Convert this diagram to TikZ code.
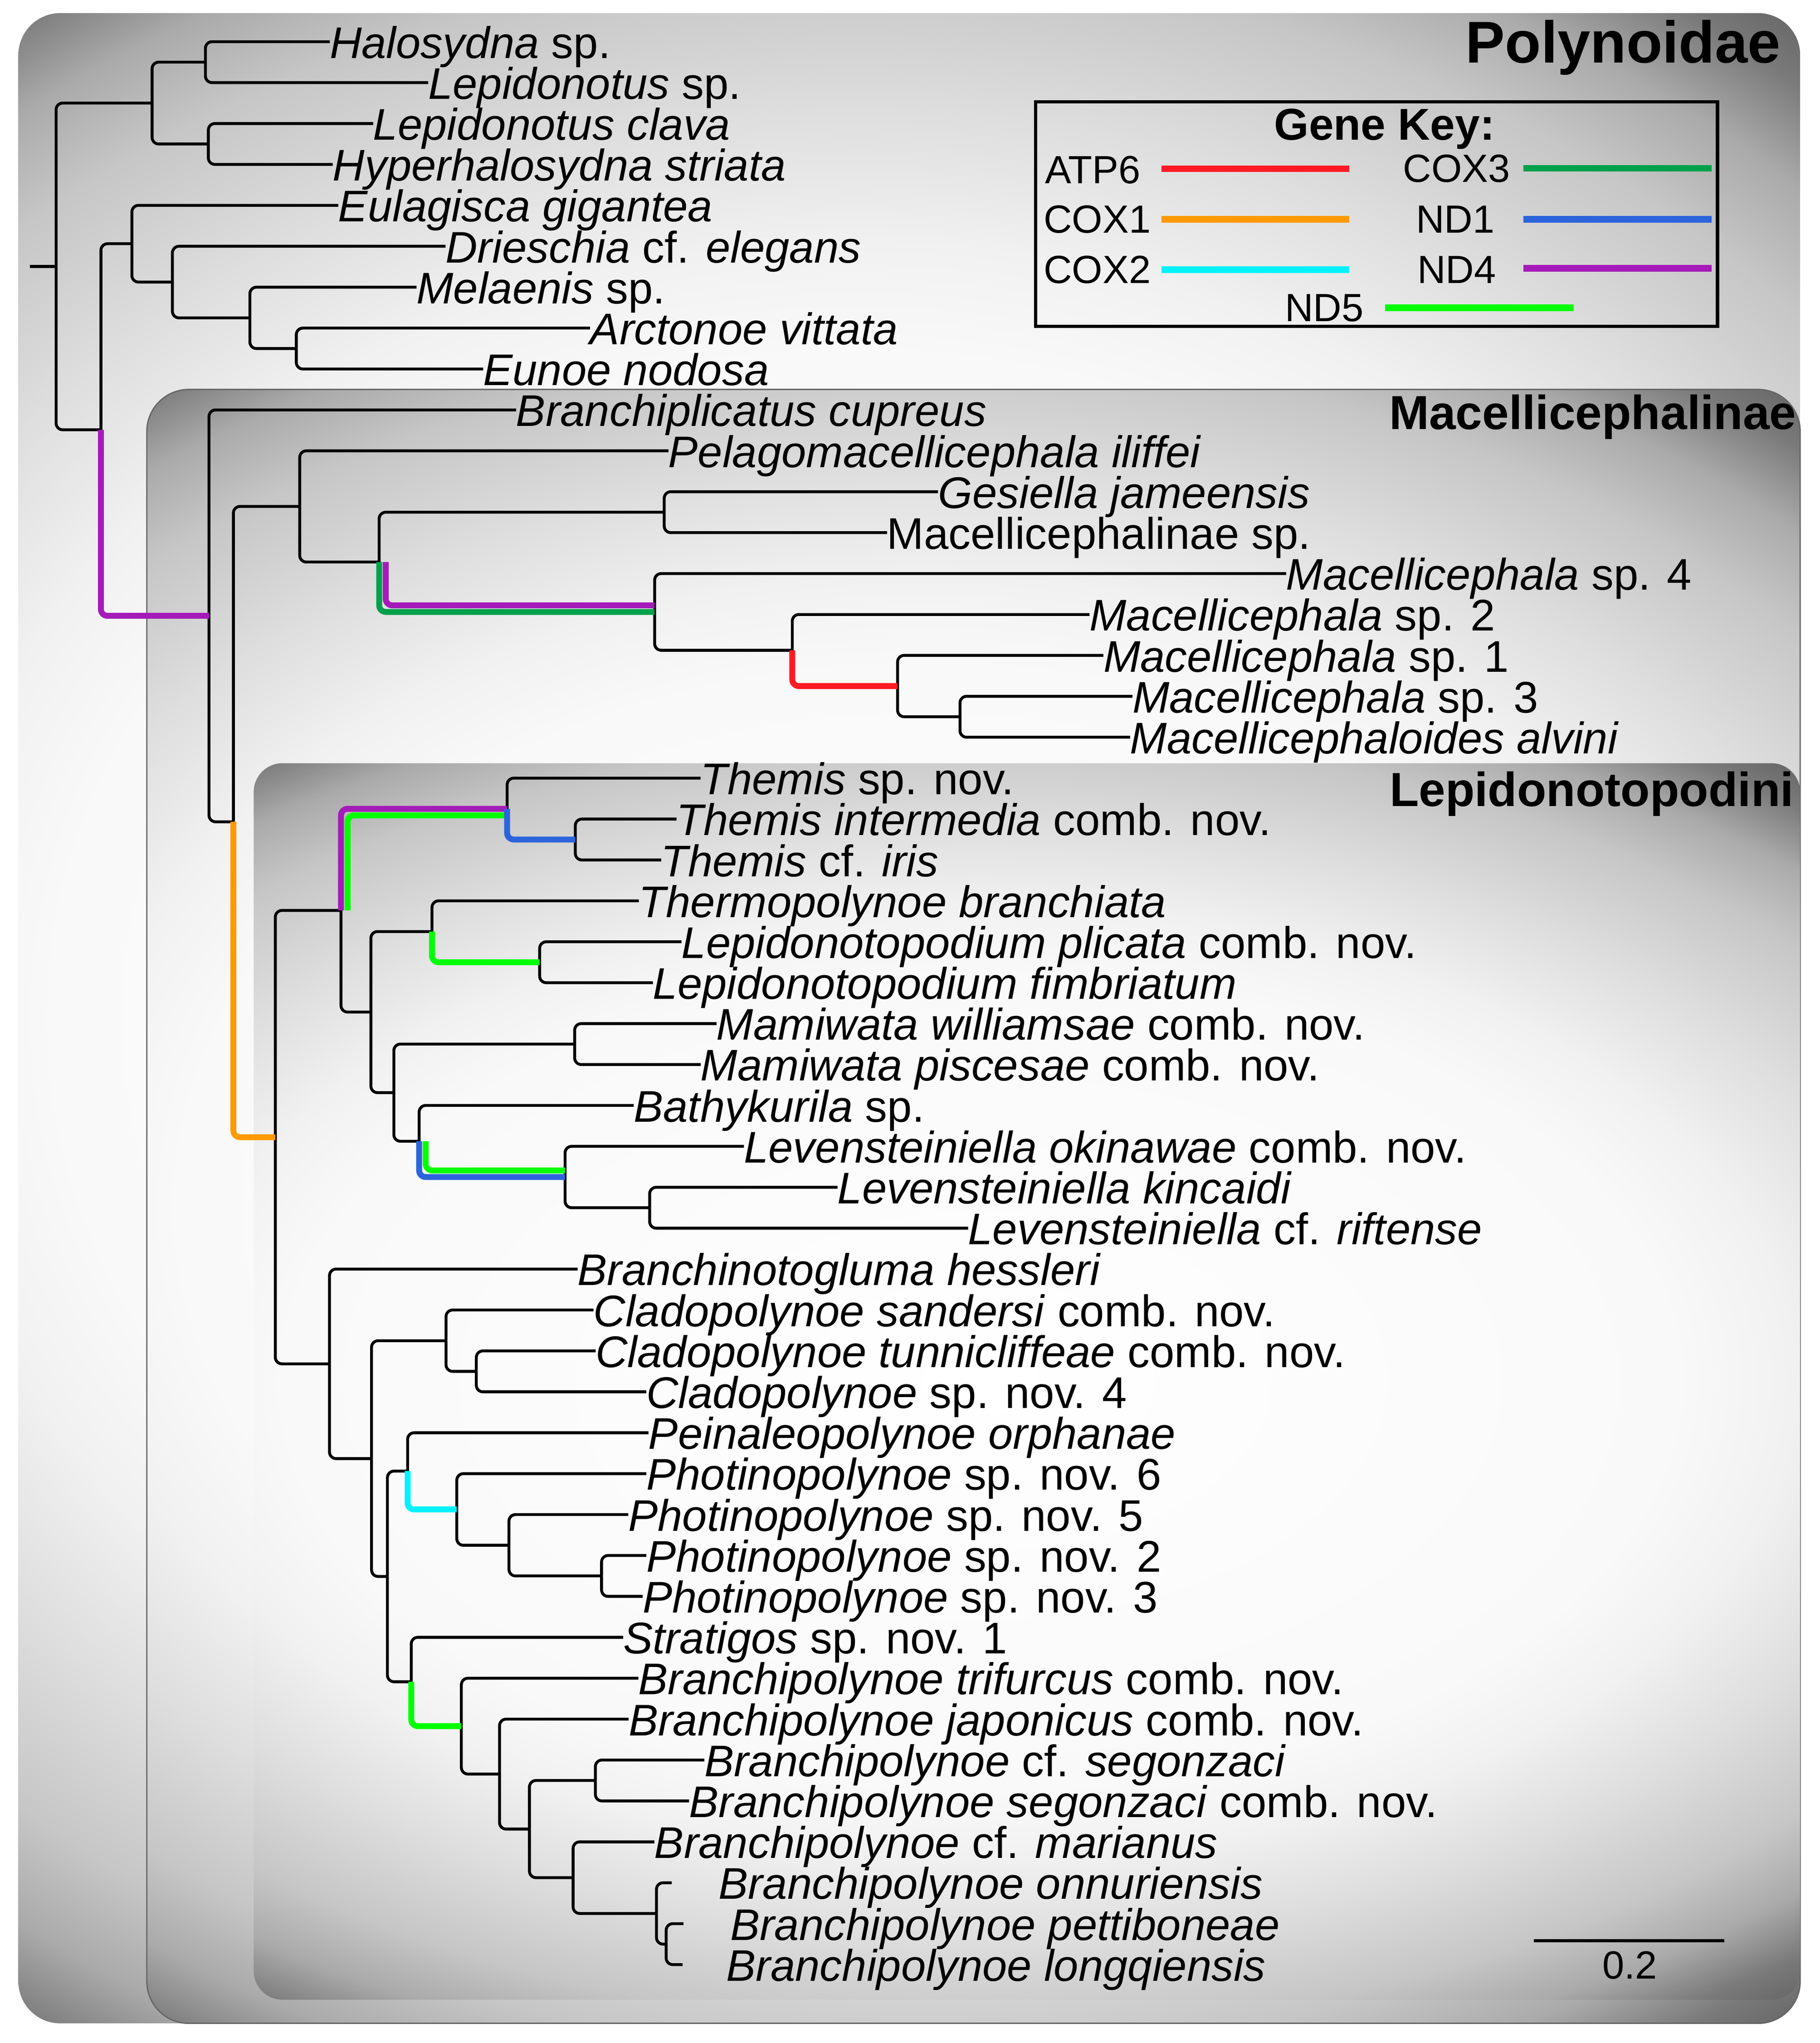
\documentclass[tikz,border=0pt]{standalone}
\usepackage{fontspec}
\setmainfont{Liberation Sans}
\usetikzlibrary{calc}
\definecolor{gA}{HTML}{F9F9F9}
\definecolor{gB}{HTML}{F1F1F1}
\definecolor{gC}{HTML}{DEDEDE}
\definecolor{gD}{HTML}{C6C6C6}
\definecolor{gE}{HTML}{AAAAAA}
\definecolor{gF}{HTML}{7A7A7A}
\definecolor{gG}{HTML}{5A5A5A}
\pgfdeclareradialshading{boxshade}{\pgfpoint{0bp}{0bp}}{color(0bp)=(white); color(15bp)=(gA); color(17.5bp)=(gB); color(20.5bp)=(gC); color(23.75bp)=(gD); color(25.75bp)=(gE); color(27.5bp)=(gF); color(29.5bp)=(gG); color(50bp)=(gG)}
\definecolor{cATP}{HTML}{FF1A24}
\definecolor{cCOXa}{HTML}{FF9900}
\definecolor{cCOXb}{HTML}{00F2FF}
\definecolor{cCOXc}{HTML}{00A14B}
\definecolor{cNDa}{HTML}{2C64DC}
\definecolor{cNDd}{HTML}{A51BB9}
\definecolor{cNDe}{HTML}{00FF00}
\begin{document}
\begin{tikzpicture}[x=1pt,y=-1pt,
  br/.style={line width=2.2pt, rounded corners=5pt},
  gene/.style={line width=4.5pt, rounded corners=5pt},
  tip/.style={anchor=west, inner sep=0pt, outer sep=0pt, text height=27pt, text depth=2pt, font=\fontsize{33.8}{40}\selectfont},
  keyt/.style={inner sep=0pt, outer sep=0pt, font=\fontsize{30}{36}\selectfont},
  keyln/.style={line width=5pt},
  clade/.style={anchor=base east, inner sep=0pt, outer sep=0pt},
  boxbg/.style={shade, shading=boxshade}]
\useasboundingbox (0,0) rectangle (1388,1558);
\fill[white] (0,0) rectangle (1388,1558);
% clade boxes (off-centre elliptical gradient, clipped to each rounded box)
\begin{scope}
  \clip[rounded corners=32pt] (14,10) rectangle (1373,1543);
  \path[boxbg] (-366,-66.5) rectangle (1672,1619.5);
\end{scope}
\begin{scope}
  \clip[rounded corners=32pt] (112,297) rectangle (1373,1543);
  \path[boxbg] (-240.9,234.7) rectangle (1650.6,1605.3);
\end{scope}
\draw[black!60, line width=1pt, rounded corners=32pt] (112,297) rectangle (1373,1543);
\begin{scope}
  \clip[rounded corners=22pt] (193.5,582) rectangle (1373,1525);
  \path[boxbg] (-136.7,534.85) rectangle (1632.5,1572.15);
\end{scope}
% clade labels
\node[clade, font=\fontsize{45}{52}\selectfont\bfseries] (lPoly) at (1358,48) {Polynoidae};
\node[clade, font=\fontsize{36.5}{43}\selectfont\bfseries] (lMac) at (1370,327.5) {Macellicephalinae};
\node[clade, font=\fontsize{36.5}{43}\selectfont\bfseries] (lLep) at (1368,615) {Lepidonotopodini};
% tips
\node[tip] (t0) at (251.5,31.8) {\textit{Halosydna} sp.};
\node[tip] (t1) at (326.6,63.0) {\textit{Lepidonotus} sp.};
\node[tip] (t2) at (284.6,94.2) {\textit{Lepidonotus clava}};
\node[tip] (t3) at (253.8,125.4) {\textit{Hyperhalosydna striata}};
\node[tip] (t4) at (258,156.6) {\textit{Eulagisca gigantea}};
\node[tip] (t5) at (339.8,187.8) {\textit{Drieschia} cf. \textit{elegans}};
\node[tip] (t6) at (317.7,219.0) {\textit{Melaenis} sp.};
\node[tip] (t7) at (450,250.2) {\textit{Arctonoe vittata}};
\node[tip] (t8) at (368.5,281.4) {\textit{Eunoe nodosa}};
\node[tip] (t9) at (393.6,312.6) {\textit{Branchiplicatus cupreus}};
\node[tip] (t10) at (509.8,343.8) {\textit{Pelagomacellicephala iliffei}};
\node[tip] (t11) at (715.5,375.0) {\textit{Gesiella jameensis}};
\node[tip] (t12) at (676.6,406.2) {Macellicephalinae sp.};
\node[tip] (t13) at (981,437.4) {\textit{Macellicephala} sp. 4};
\node[tip] (t14) at (831,468.6) {\textit{Macellicephala} sp. 2};
\node[tip] (t15) at (841.6,499.8) {\textit{Macellicephala} sp. 1};
\node[tip] (t16) at (863.8,531.0) {\textit{Macellicephala} sp. 3};
\node[tip] (t17) at (862,562.2) {\textit{Macellicephaloides alvini}};
\node[tip] (t18) at (534.3,593.4) {\textit{Themis} sp. nov.};
\node[tip] (t19) at (516,624.6) {\textit{Themis intermedia} comb. nov.};
\node[tip] (t20) at (504.3,655.8) {\textit{Themis} cf. \textit{iris}};
\node[tip] (t21) at (487.3,687.0) {\textit{Thermopolynoe branchiata}};
\node[tip] (t22) at (519.8,718.2) {\textit{Lepidonotopodium plicata} comb. nov.};
\node[tip] (t23) at (498,749.4) {\textit{Lepidonotopodium fimbriatum}};
\node[tip] (t24) at (546.5,780.6) {\textit{Mamiwata williamsae} comb. nov.};
\node[tip] (t25) at (534.4,811.8) {\textit{Mamiwata piscesae} comb. nov.};
\node[tip] (t26) at (483.4,843.0) {\textit{Bathykurila} sp.};
\node[tip] (t27) at (567.4,874.2) {\textit{Levensteiniella okinawae} comb. nov.};
\node[tip] (t28) at (638.8,905.4) {\textit{Levensteiniella kincaidi}};
\node[tip] (t29) at (738.4,936.6) {\textit{Levensteiniella} cf. \textit{riftense}};
\node[tip] (t30) at (440.6,967.8) {\textit{Branchinotogluma hessleri}};
\node[tip] (t31) at (452.7,999.0) {\textit{Cladopolynoe sandersi} comb. nov.};
\node[tip] (t32) at (454.3,1030.2) {\textit{Cladopolynoe tunnicliffeae} comb. nov.};
\node[tip] (t33) at (493,1061.4) {\textit{Cladopolynoe} sp. nov. 4};
\node[tip] (t34) at (494.6,1092.6) {\textit{Peinaleopolynoe orphanae}};
\node[tip] (t35) at (493,1123.8) {\textit{Photinopolynoe} sp. nov. 6};
\node[tip] (t36) at (479.2,1155.0) {\textit{Photinopolynoe} sp. nov. 5};
\node[tip] (t37) at (493,1186.2) {\textit{Photinopolynoe} sp. nov. 2};
\node[tip] (t38) at (490.2,1217.4) {\textit{Photinopolynoe} sp. nov. 3};
\node[tip] (t39) at (475.3,1248.6) {\textit{Stratigos} sp. nov. 1};
\node[tip] (t40) at (486.9,1279.8) {\textit{Branchipolynoe trifurcus} comb. nov.};
\node[tip] (t41) at (479.5,1311.0) {\textit{Branchipolynoe japonicus} comb. nov.};
\node[tip] (t42) at (537.2,1342.2) {\textit{Branchipolynoe} cf. \textit{segonzaci}};
\node[tip] (t43) at (525.6,1373.4) {\textit{Branchipolynoe segonzaci} comb. nov.};
\node[tip] (t44) at (499.1,1404.6) {\textit{Branchipolynoe} cf. \textit{marianus}};
\node[tip] (t45) at (548,1435.8) {\textit{Branchipolynoe onnuriensis}};
\node[tip] (t46) at (557,1467.0) {\textit{Branchipolynoe pettiboneae}};
\node[tip] (t47) at (554,1498.2) {\textit{Branchipolynoe longqiensis}};
% internal nodes
\coordinate (r0s) at (23,203.2);
\coordinate (r0) at (42.8,203.2);
\coordinate (p1) at (116,78.6);
\coordinate (p2) at (156.7,47.4);
\coordinate (p3) at (158.9,109.8);
\coordinate (p4) at (77,327.75);
\coordinate (p5) at (100.6,185.85);
\coordinate (p6) at (131.5,215.1);
\coordinate (p7) at (190.6,242.4);
\coordinate (p8) at (226,265.8);
\coordinate (nA) at (159.4,469.65);
\coordinate (nB) at (178,626.7);
\coordinate (nC) at (228.6,386.2);
\coordinate (nD) at (289.2,428.6);
\coordinate (nE) at (506.6,390.6);
\coordinate (nF) at (499.3,466.65);
\coordinate (nG) at (604.3,495.9);
\coordinate (nH) at (684.6,523.2);
\coordinate (nI) at (732.2,546.6);
\coordinate (nJ) at (210,867.2);
\coordinate (nK) at (260.1,694.3);
\coordinate (nL) at (386.8,616.8);
\coordinate (nM) at (438.8,640.2);
\coordinate (nN) at (282.9,771.8);
\coordinate (nO) at (329.5,710.4);
\coordinate (nP) at (411.6,733.8);
\coordinate (nQ) at (300.4,833.25);
\coordinate (nR) at (438.3,796.2);
\coordinate (nS) at (319.7,870.3);
\coordinate (nT) at (431,897.6);
\coordinate (nU) at (495.5,921);
\coordinate (nV) at (251.3,1040.05);
\coordinate (nW) at (283.4,1112.3);
\coordinate (nX) at (340.2,1022.4);
\coordinate (nXb) at (363.3,1045.8);
\coordinate (nY) at (295.5,1202.2);
\coordinate (nZ) at (310.9,1121.85);
\coordinate (nAA) at (348.4,1151.1);
\coordinate (nAB) at (388.2,1178.4);
\coordinate (nAC) at (458.8,1201.8);
\coordinate (nAD) at (313.7,1282.5);
\coordinate (nAE) at (351.9,1316.35);
\coordinate (nAF) at (381,1352.9);
\coordinate (nAG) at (403.8,1394.85);
\coordinate (nAH) at (454.1,1357.8);
\coordinate (nAI) at (437.1,1431.9);
\coordinate (nAJ) at (500.7,1459.2);
\coordinate (nAK) at (508.1,1482.6);
\coordinate (e45) at (512.3,1435.8);
\coordinate (e46) at (521.3,1467.0);
\coordinate (e47) at (520.6,1498.2);
% black branches
\draw[br] (r0s) -- (r0);
\draw[br] (r0) |- (p1); \draw[br] (r0) |- (p4);
\draw[br] (p1) |- (p2); \draw[br] (p1) |- (p3);
\draw[br] (p2) |- (t0.west); \draw[br] (p2) |- (t1.west);
\draw[br] (p3) |- (t2.west); \draw[br] (p3) |- (t3.west);
\draw[br] (p4) |- (p5);
\draw[br] (p5) |- (t4.west); \draw[br] (p5) |- (p6);
\draw[br] (p6) |- (t5.west); \draw[br] (p6) |- (p7);
\draw[br] (p7) |- (t6.west); \draw[br] (p7) |- (p8);
\draw[br] (p8) |- (t7.west); \draw[br] (p8) |- (t8.west);
\draw[br] (nA) |- (t9.west); \draw[br] (nA) |- (nB);
\draw[br] (nB) |- (nC);
\draw[br] (nC) |- (t10.west); \draw[br] (nC) |- (nD);
\draw[br] (nD) |- (nE);
\draw[br] (nE) |- (t11.west); \draw[br] (nE) |- (t12.west);
\draw[br] (nF) |- (t13.west); \draw[br] (nF) |- (nG);
\draw[br] (nG) |- (t14.west);
\draw[br] (nH) |- (t15.west); \draw[br] (nH) |- (nI);
\draw[br] (nI) |- (t16.west); \draw[br] (nI) |- (t17.west);
\draw[br] (nJ) |- (nK); \draw[br] (nJ) |- (nV);
\draw[br] (nK) |- (nN);
\draw[br] (nL) |- (t18.west);
\draw[br] (nM) |- (t19.west); \draw[br] (nM) |- (t20.west);
\draw[br] (nN) |- (nO); \draw[br] (nN) |- (nQ);
\draw[br] (nO) |- (t21.west);
\draw[br] (nP) |- (t22.west); \draw[br] (nP) |- (t23.west);
\draw[br] (nQ) |- (nR); \draw[br] (nQ) |- (nS);
\draw[br] (nR) |- (t24.west); \draw[br] (nR) |- (t25.west);
\draw[br] (nS) |- (t26.west);
\draw[br] (nT) |- (t27.west); \draw[br] (nT) |- (nU);
\draw[br] (nU) |- (t28.west); \draw[br] (nU) |- (t29.west);
\draw[br] (nV) |- (t30.west); \draw[br] (nV) |- (nW);
\draw[br] (nW) |- (nX); \draw[br] (nW) |- (nY);
\draw[br] (nX) |- (t31.west); \draw[br] (nX) |- (nXb);
\draw[br] (nXb) |- (t32.west); \draw[br] (nXb) |- (t33.west);
\draw[br] (nY) |- (nZ); \draw[br] (nY) |- (nAD);
\draw[br] (nZ) |- (t34.west);
\draw[br] (nAA) |- (t35.west); \draw[br] (nAA) |- (nAB);
\draw[br] (nAB) |- (t36.west); \draw[br] (nAB) |- (nAC);
\draw[br] (nAC) |- (t37.west); \draw[br] (nAC) |- (t38.west);
\draw[br] (nAD) |- (t39.west);
\draw[br] (nAE) |- (t40.west); \draw[br] (nAE) |- (nAF);
\draw[br] (nAF) |- (t41.west); \draw[br] (nAF) |- (nAG);
\draw[br] (nAG) |- (nAH); \draw[br] (nAG) |- (nAI);
\draw[br] (nAH) |- (t42.west); \draw[br] (nAH) |- (t43.west);
\draw[br] (nAI) |- (t44.west); \draw[br] (nAI) |- (nAJ);
\draw[br] (nAJ) |- (e45); \draw[br] (nAJ) |- (nAK);
\draw[br] (nAK) |- (e46); \draw[br] (nAK) |- (e47);
% gene-coloured branches
\draw[gene, cNDd] (p4) |- (nA);
\draw[gene, cCOXa] (nB) |- (nJ);
\draw[gene, cCOXc] (nD) |- (nF);
\draw[gene, cNDd] ($(nD)+(5,0)$) |- ($(nF)+(0,-5)$);
\draw[gene, cATP] (nG) |- (nH);
\draw[gene, cNDd] (nK) |- (nL);
\draw[gene, cNDe] ($(nK)+(5,0)$) |- ($(nL)+(0,5)$);
\draw[gene, cNDa] (nL) |- (nM);
\draw[gene, cNDe] (nO) |- (nP);
\draw[gene, cNDa] (nS) |- (nT);
\draw[gene, cNDe] ($(nS)+(5,0)$) |- ($(nT)+(0,-5)$);
\draw[gene, cCOXb] (nZ) |- (nAA);
\draw[gene, cNDe] (nAD) |- (nAE);
% gene key
\node[draw, line width=2.5pt, minimum width=520pt, minimum height=171pt, inner sep=0pt] (key) at (1050,163.25) {};
\node[inner sep=0pt, anchor=base, font=\fontsize{34}{40}\selectfont\bfseries] (keyttl) at (1056,106.6) {Gene Key:};
\node[keyt, anchor=base west] (kATP) at (797,139.8) {ATP6};
\draw[keyln, cATP] (886,128.6) -- (1029,128.6);
\node[keyt, anchor=base] (kCOXc) at (1111,138.8) {COX3};
\draw[keyln, cCOXc] (1162,128.4) -- (1305.5,128.4);
\node[keyt, anchor=base west] (kCOXa) at (796,177.7) {COX1};
\draw[keyln, cCOXa] (886,167.3) -- (1029,167.3);
\node[keyt, anchor=base] (kNDa) at (1110,177.7) {ND1};
\draw[keyln, cNDa] (1162,167.3) -- (1305.5,167.3);
\node[keyt, anchor=base west] (kCOXb) at (796,215.9) {COX2};
\draw[keyln, cCOXb] (886,205.7) -- (1029,205.7);
\node[keyt, anchor=base] (kNDd) at (1111,215.9) {ND4};
\draw[keyln, cNDd] (1162,204.6) -- (1305.5,204.6);
\node[keyt, anchor=base west] (kNDe) at (980,245) {ND5};
\draw[keyln, cNDe] (1056.5,234.7) -- (1200.3,234.7);
% scale bar
\coordinate (sb1) at (1170,1480);
\coordinate (sb2) at (1315,1480);
\draw[line width=2.5pt] (sb1) -- (sb2);
\node[keyt, anchor=base] (sbl) at (1243,1509) {0.2};
\end{tikzpicture}
\end{document}
